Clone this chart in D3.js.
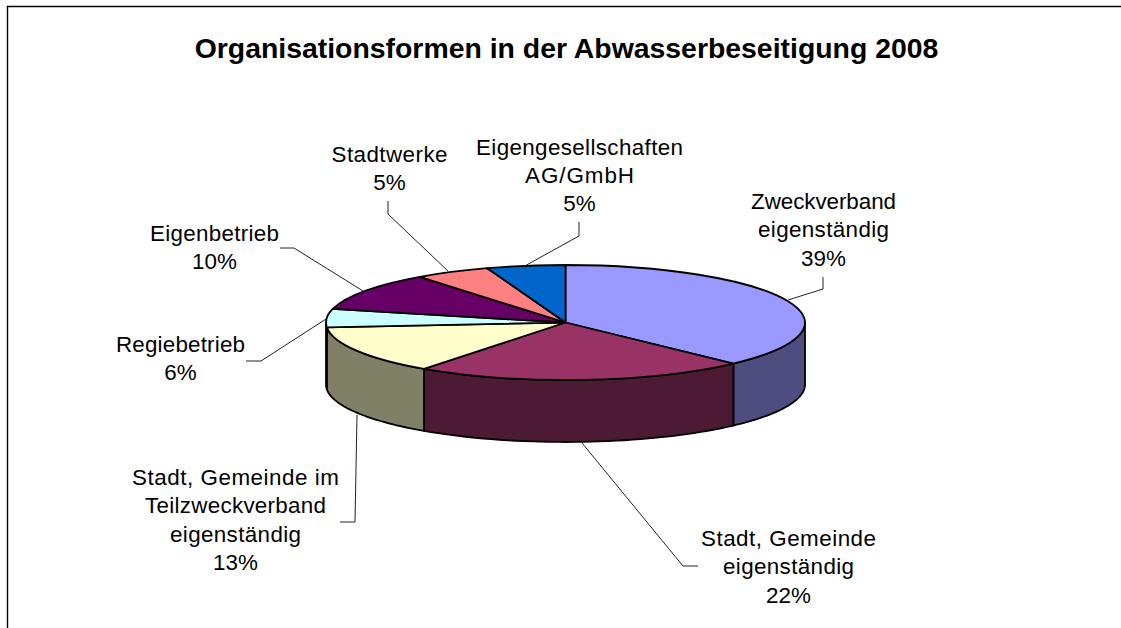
<!DOCTYPE html>
<html><head><meta charset="utf-8">
<style>html,body{margin:0;padding:0;background:#fff}svg{display:block}text{font-family:"Liberation Sans",Arial,sans-serif;fill:#000}</style>
<script src="https://cdn.jsdelivr.net/npm/d3@7/dist/d3.min.js"></script>
</head><body><svg id="c" width="1121" height="628"></svg>
<script>
const titleText = "Organisationsformen in der Abwasserbeseitigung 2008";
const categories = ["Zweckverband eigenständig","Stadt, Gemeinde eigenständig","Stadt, Gemeinde im Teilzweckverband eigenständig","Regiebetrieb","Eigenbetrieb","Stadtwerke","Eigengesellschaften AG/GmbH"];
const labelLines = [["Zweckverband","eigenständig"],["Stadt, Gemeinde","eigenständig"],["Stadt, Gemeinde im","Teilzweckverband","eigenständig"],["Regiebetrieb"],["Eigenbetrieb"],["Stadtwerke"],["Eigengesellschaften","AG/GmbH"]];
const percentLabels = [39,22,13,6,10,5,5];
// angular shares as drawn in the tilted 3-D picture
const drawnShares = [37.6,22.4,13.6,5.1,10.8,5.1,5.3];
const topColors = ["#9999FF","#993366","#FFFFCC","#CCFFFF","#660066","#FF8080","#0066CC"];
const sideColors = ["#4D4D80","#4D1A33","#808066","#668080","#330033","#804040","#003366"];

// layout
const cx=565.5, cy=322.5, rx=239.5, ry=57.5, depth=62;
const labelX=[823.5,788.5,235.5,180.5,214.5,389.5,579.5], labelY=[209,546,485,352,240.5,161.5,154.5];
const lineH=28.4, fontSize=22.4;
// per-line advance widths, matching the reference's hinted text metrics
const lineWidths=[[145,131],[175,131],[207,181,131],[129],[129],[116],[207,109]];
const leaders=[
 [[788,300],[823,289],[823,277]],
 [[582,443],[683,566],[698,566]],
 [[357,415],[355,522],[340,522]],
 [[326,319],[261,361],[246,361]],
 [[363,291],[294,248],[280,248]],
 [[448,271],[388,214],[388,201]],
 [[523,267],[579,236],[579,222]]
];

const svg=d3.select("#c");
// frame
svg.append("path").attr("d",d3.line()([[7.5,628],[7.5,6.5],[1121,6.5]])).attr("fill","none").attr("stroke","#000").attr("stroke-width",1.4);
svg.append("text").attr("x",566.5).attr("y",58).attr("text-anchor","middle").attr("font-size",28.4).attr("font-weight","bold").text(titleText);

const pie=d3.pie().sort(null).value(d=>d)(drawnShares);
const pt=(a,dy=0)=>[cx+rx*Math.sin(a), cy-ry*Math.cos(a)+dy];
const line=d3.line();
const g=svg.append("g");
// side walls (front half only: angles PI/2..3PI/2)
pie.forEach((d,i)=>{
  const a0=Math.max(d.startAngle,Math.PI/2), a1=Math.min(d.endAngle,3*Math.PI/2);
  if(a1<=a0) return;
  const as=d3.range(0,41).map(k=>d3.interpolateNumber(a0,a1)(k/40));
  const pts=as.map(a=>pt(a)).concat(as.slice().reverse().map(a=>pt(a,depth)));
  g.append("path").attr("d",line(pts)+"Z").attr("fill",sideColors[i]).attr("stroke","#000").attr("stroke-width",1.8).attr("stroke-linejoin","round");
});
// top face
const arc=d3.arc().innerRadius(0).outerRadius(rx);
g.append("g").attr("transform",`translate(${cx},${cy}) scale(1,${ry/rx})`)
 .selectAll("path").data(pie).join("path").attr("d",arc)
 .attr("fill",(d,i)=>topColors[i]).attr("stroke","#000").attr("stroke-width",1.8)
 .attr("vector-effect","non-scaling-stroke").attr("stroke-linejoin","round");
// leaders
svg.append("g").selectAll("path").data(leaders).join("path").attr("d",d=>line(d))
 .attr("fill","none").attr("stroke","#222").attr("stroke-width",1);
// labels
categories.forEach((c,i)=>{
  const lines=labelLines[i].concat([percentLabels[i]+"%"]);
  const t=svg.append("text").attr("font-size",fontSize).attr("text-anchor","middle");
  lines.forEach((l,k)=>{
    const s=t.append("tspan").attr("x",labelX[i]).attr("y",labelY[i]+k*lineH).text(l);
    if(lineWidths[i][k]) s.attr("textLength",lineWidths[i][k]).attr("lengthAdjust","spacing");
  });
});
</script></body></html>
